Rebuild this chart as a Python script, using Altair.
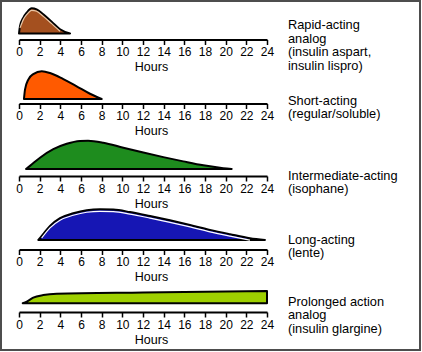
import altair as alt
import pandas as pd

FONT = "Liberation Sans"

# ---- data (hours after injection, relative effect % of each profile's peak) ----
hours_rapid = [0, 0.1, 0.42, 0.75, 1.23, 1.71, 2.35, 3.16, 3.97, 4.94]
effect_rapid = [0, 30, 63, 83, 100, 96, 76, 47, 17, 0]

hours_short = [0.48, 0.58, 0.9, 1.38, 2.2, 3.0, 4.29, 5.58, 6.87, 8.0]
effect_short = [0, 34, 70, 90, 100, 94, 72, 46, 19, 0]

hours_inter = [0.68, 1.06, 2.03, 3.32, 4.62, 5.9, 6.68, 8.16, 10.1, 12.03, 13.97, 15.9, 17.84, 19.77, 20.58]
effect_inter = [0, 11, 40, 70, 89, 99, 100, 93, 75, 58, 42, 27, 13, 3, 0]

hours_long = [1.87, 2.2, 3.0, 3.97, 5.25, 6.55, 7.84, 9.13, 10.74, 12.68, 14.61, 16.55, 18.48, 20.42, 22.35, 23.8]
effect_long = [0, 13, 46, 71, 87, 97, 100, 99, 91, 78, 64, 49, 33, 19, 6, 0]

hours_glargine = [0.36, 0.75, 1.38, 2.35, 3.65, 12, 24]
effect_glargine = [0, 13, 46, 67, 78, 88, 100]

labels = [
    "Rapid-acting\nanalog\n(insulin aspart,\ninsulin lispro)",
    "Short-acting\n(regular/soluble)",
    "Intermediate-acting\n(isophane)",
    "Long-acting\n(lente)",
    "Prolonged action\nanalog\n(insulin glargine)",
]
tick_values = list(range(0, 25, 2))

# ---- styling / layout ----
colors = ["#A4501F", "#FF5A00", "#1E8C1E", "#1616B4", "#9ED000"]
inner_colors = ["#E8C6A6", None, None, "#FFFFFF", None]
y_ranges = [[32.5, 7.3], [98, 70.3], [168, 139.7], [239, 208.3], [302.3, 290]]
axis_offsets = [-310.5, -246.5, -174, -100.5, -38]
label_dy = [-14.5, -4.5, 0.5, -6.5, -7.5]

series = [
    (hours_rapid, effect_rapid),
    (hours_short, effect_short),
    (hours_inter, effect_inter),
    (hours_long, effect_long),
    (hours_glargine, effect_glargine),
]


def make_panel(i):
    hrs, eff = series[i]
    df = pd.DataFrame({"hour": hrs, "effect": eff})
    xenc = alt.X(
        "hour:Q",
        scale=alt.Scale(domain=[0, 24], range=[18, 266], nice=False, zero=False),
        axis=alt.Axis(
            orient="bottom",
            offset=axis_offsets[i],
            values=tick_values,
            title="Hours",
            grid=False,
            domainColor="black",
            domainWidth=2,
            tickColor="black",
            tickWidth=1.5,
            tickSize=5,
            labelFont=FONT,
            labelFontSize=12,
            labelColor="black",
            labelPadding=2,
            labelFlush=False,
            titleFont=FONT,
            titleFontSize=12.5,
            titleFontWeight="normal",
            titleColor="black",
            titleX=150,
            titleY=27,
            titleBaseline="middle",
        ),
    )
    yenc = alt.Y(
        "effect:Q",
        scale=alt.Scale(domain=[0, 100], range=y_ranges[i], nice=False),
        axis=None,
    )
    area = alt.Chart(df).mark_area(
        color=colors[i],
        fillOpacity=1,
        stroke="black",
        strokeWidth=2,
        strokeJoin="round",
        interpolate="monotone",
    ).encode(x=xenc, y=yenc)
    layers = [area]
    if inner_colors[i]:
        inner = alt.Chart(df).transform_filter(alt.datum.effect >= 6).mark_line(
            color=inner_colors[i], strokeWidth=1.2, interpolate="monotone", yOffset=2
        ).encode(x=xenc, y=yenc)
        layers.append(inner)
    lab_df = pd.DataFrame({"hour": [24], "effect": [0], "label": [labels[i]]})
    text = alt.Chart(lab_df).mark_text(
        align="left",
        baseline="top",
        dx=21,
        dy=label_dy[i],
        font=FONT,
        fontSize=12.8,
        lineHeight=13.6,
        lineBreak="\n",
        color="black",
    ).encode(x=xenc, y=yenc, text="label:N")
    layers.append(text)
    return alt.layer(*layers)


chart = (
    alt.layer(*[make_panel(i) for i in range(5)])
    .resolve_scale(x="independent", y="independent")
    .resolve_axis(x="independent", y="independent")
    .properties(
        width=419,
        height=349,
        padding=1,
        autosize=alt.AutoSizeParams(type="none"),
        background="white",
    )
    .configure_view(stroke="#4d4d4d", strokeWidth=2)
)

chart.save("out.html", embed_options={"renderer": "svg", "actions": False})
